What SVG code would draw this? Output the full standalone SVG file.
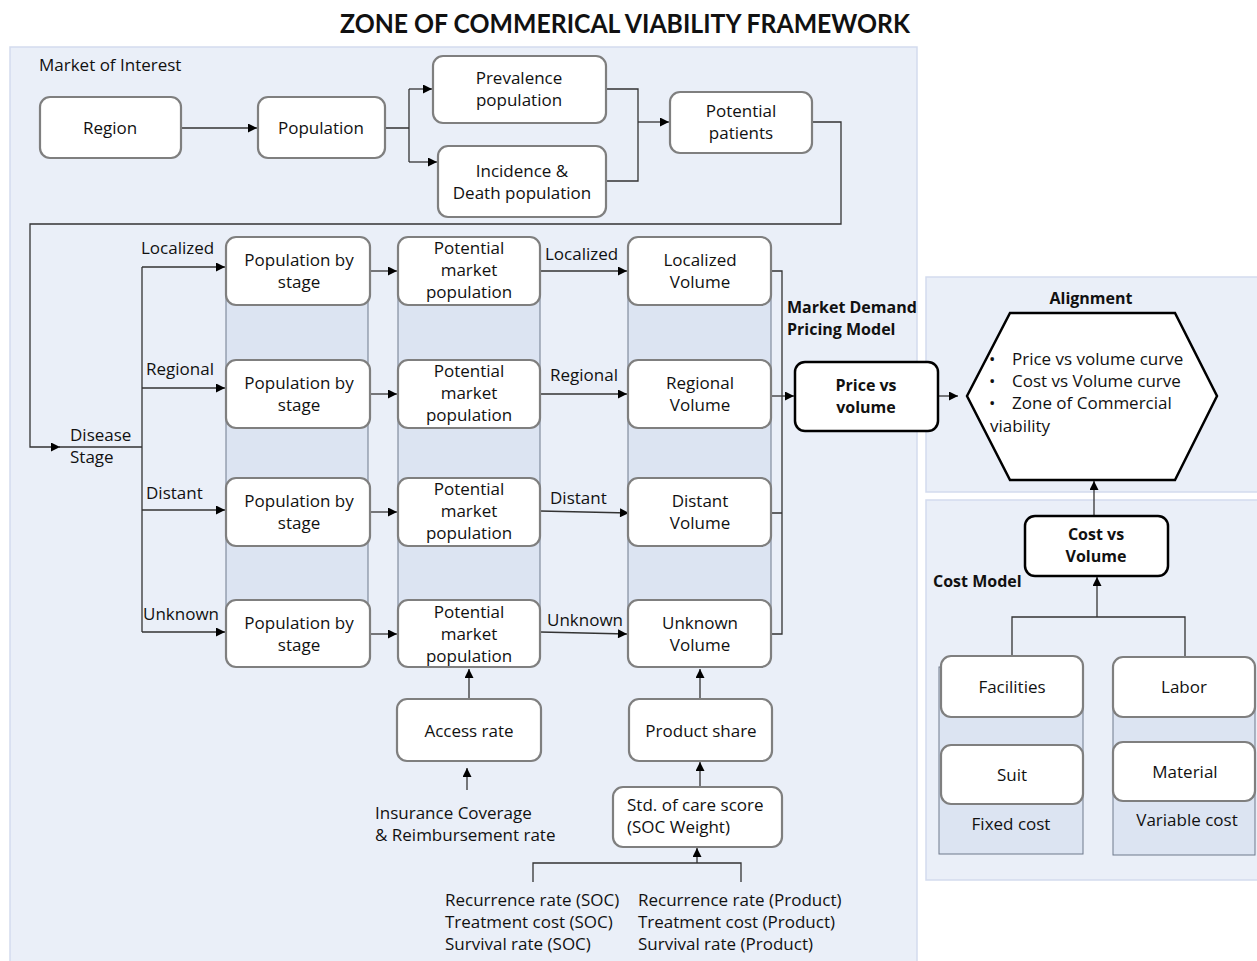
<svg xmlns="http://www.w3.org/2000/svg" width="1257" height="961" viewBox="0 0 1257 961">
<defs>
<marker id="ah" viewBox="0 0 10 10" refX="10" refY="5" markerWidth="10" markerHeight="9" markerUnits="userSpaceOnUse" orient="auto">
<path d="M0,0 L10,5 L0,10 z" fill="#000"/>
</marker>
<style>
.panel{fill:#eaeff8;stroke:#d3dbee;stroke-width:1.5}
.col{fill:#dce4f2;stroke:#6f7a8c;stroke-width:1}
.box{fill:#fff;stroke:#7f7f7f;stroke-width:2.2}
.bbox{fill:#fff;stroke:#000;stroke-width:2.5}
.t{font-family:"Open Sans","Liberation Sans",sans-serif;font-size:17px;fill:#111}
.c{text-anchor:middle}
.b{font-weight:bold;font-size:16px}
.ln{fill:none;stroke:#333;stroke-width:1.3}
.ar{fill:none;stroke:#333;stroke-width:1.3;marker-end:url(#ah)}
</style>
</defs>
<rect width="1257" height="961" fill="#fff"/>
<text x="625" y="33" font-weight="bold" font-family="Lato,'Open Sans',sans-serif" font-size="26" text-anchor="middle" fill="#111" textLength="570" lengthAdjust="spacingAndGlyphs">ZONE OF COMMERICAL VIABILITY FRAMEWORK</text>

<g id="panels">
<rect class="panel" x="10" y="47" width="907" height="920"/>
<rect class="panel" x="926" y="277" width="335" height="215"/>
<rect class="panel" x="926" y="500" width="335" height="380"/>
<rect class="col" x="226" y="250" width="142" height="405"/>
<rect class="col" x="398" y="250" width="142" height="405"/>
<rect class="col" x="628" y="250" width="143" height="405"/>
<rect class="col" x="939" y="667" width="144" height="187"/>
<rect class="col" x="1113" y="667" width="142" height="188"/>
</g>

<g id="labels">
<text x="39" y="71" class="t">Market of Interest</text>
<text x="70" y="441" class="t">Disease</text>
<text x="70" y="463" class="t">Stage</text>
<text x="141" y="254" class="t">Localized</text>
<text x="146" y="375" class="t">Regional</text>
<text x="146" y="499" class="t">Distant</text>
<text x="143" y="620" class="t">Unknown</text>
<text x="545" y="260" class="t">Localized</text>
<text x="550" y="381" class="t">Regional</text>
<text x="550" y="504" class="t">Distant</text>
<text x="547" y="626" class="t">Unknown</text>
<text x="787" y="313" class="t b">Market Demand</text>
<text x="787" y="335" class="t b">Pricing Model</text>
<text x="1091" y="304" class="t c b">Alignment</text>
<text x="933" y="587" class="t b">Cost Model</text>
<text x="1011" y="830" class="t c">Fixed cost</text>
<text x="1187" y="826" class="t c">Variable cost</text>
<text x="375" y="819" class="t">Insurance Coverage</text>
<text x="375" y="841" class="t">&amp; Reimbursement rate</text>
<text x="445" y="906" class="t">Recurrence rate (SOC)</text>
<text x="445" y="928" class="t">Treatment cost (SOC)</text>
<text x="445" y="950" class="t">Survival rate (SOC)</text>
<text x="638" y="906" class="t">Recurrence rate (Product)</text>
<text x="638" y="928" class="t">Treatment cost (Product)</text>
<text x="638" y="950" class="t">Survival rate (Product)</text>
</g>

<g id="connectors">
<path class="ar" d="M181,128 H257"/>
<path class="ln" d="M385,128 H409 M409,89 V162"/>
<path class="ar" d="M409,89 H432"/>
<path class="ar" d="M409,162 H437"/>
<path class="ln" d="M606,89 H638 V181 H606"/>
<path class="ar" d="M638,122 H669"/>
<path class="ar" d="M812,122 H841 V224 H30 V447 H60"/>
<path class="ln" d="M58,447 H142 M142,267 V632"/>
<path class="ar" d="M142,267 H225"/>
<path class="ar" d="M142,388 H225"/>
<path class="ar" d="M142,510 H225"/>
<path class="ar" d="M142,632 H225"/>
<path class="ar" d="M370,271 H397"/>
<path class="ar" d="M370,394 H397"/>
<path class="ar" d="M370,512 H397"/>
<path class="ar" d="M370,634 H397"/>
<path class="ar" d="M540,271 H627"/>
<path class="ar" d="M540,394 H627"/>
<path class="ar" d="M540,511 L629,513"/>
<path class="ar" d="M540,632 L627,634"/>
<path class="ln" d="M771,271 H782 V634 H771 M771,513 H782"/>
<path class="ar" d="M771,396 H794"/>
<path class="ar" d="M938,396 H958"/>
<path class="ar" d="M1094,516 V481"/>
<path class="ln" d="M1012,656 V617 H1185 V657"/>
<path class="ar" d="M1097,617 V577"/>
<path class="ar" d="M469,699 V669"/>
<path class="ar" d="M467,790 V768"/>
<path class="ar" d="M700,699 V669"/>
<path class="ar" d="M700,786 V762"/>
<path class="ln" d="M533,882 V863 H741 V882"/>
<path class="ar" d="M697,863 V848"/>
</g>

<g id="region"><rect class="box" x="40" y="97" width="141" height="61" rx="10"/><text x="110" y="134" class="t c">Region</text></g>
<g id="population"><rect class="box" x="258" y="97" width="127" height="61" rx="10"/><text x="321" y="134" class="t c">Population</text></g>
<g id="prevalence"><rect class="box" x="433" y="56" width="173" height="67" rx="10"/><text x="519" y="84" class="t c">Prevalence</text><text x="519" y="106" class="t c">population</text></g>
<g id="incidence"><rect class="box" x="438" y="146" width="168" height="71" rx="10"/><text x="522" y="177" class="t c">Incidence &amp;</text><text x="522" y="199" class="t c">Death population</text></g>
<g id="potential-patients"><rect class="box" x="670" y="92" width="142" height="61" rx="10"/><text x="741" y="117" class="t c">Potential</text><text x="741" y="139" class="t c">patients</text></g>

<g id="pop-stage-1"><rect class="box" x="226" y="237" width="144" height="68" rx="10"/><text x="299" y="266" class="t c">Population by</text><text x="299" y="288" class="t c">stage</text></g>
<g id="pop-stage-2"><rect class="box" x="226" y="360" width="144" height="68" rx="10"/><text x="299" y="389" class="t c">Population by</text><text x="299" y="411" class="t c">stage</text></g>
<g id="pop-stage-3"><rect class="box" x="226" y="478" width="144" height="68" rx="10"/><text x="299" y="507" class="t c">Population by</text><text x="299" y="529" class="t c">stage</text></g>
<g id="pop-stage-4"><rect class="box" x="226" y="600" width="144" height="67" rx="10"/><text x="299" y="629" class="t c">Population by</text><text x="299" y="651" class="t c">stage</text></g>

<g id="pmp-1"><rect class="box" x="398" y="237" width="142" height="68" rx="10"/><text x="469" y="254" class="t c">Potential</text><text x="469" y="276" class="t c">market</text><text x="469" y="298" class="t c">population</text></g>
<g id="pmp-2"><rect class="box" x="398" y="360" width="142" height="68" rx="10"/><text x="469" y="377" class="t c">Potential</text><text x="469" y="399" class="t c">market</text><text x="469" y="421" class="t c">population</text></g>
<g id="pmp-3"><rect class="box" x="398" y="478" width="142" height="68" rx="10"/><text x="469" y="495" class="t c">Potential</text><text x="469" y="517" class="t c">market</text><text x="469" y="539" class="t c">population</text></g>
<g id="pmp-4"><rect class="box" x="398" y="600" width="142" height="67" rx="10"/><text x="469" y="618" class="t c">Potential</text><text x="469" y="640" class="t c">market</text><text x="469" y="662" class="t c">population</text></g>

<g id="vol-localized"><rect class="box" x="628" y="237" width="143" height="68" rx="10"/><text x="700" y="266" class="t c">Localized</text><text x="700" y="288" class="t c">Volume</text></g>
<g id="vol-regional"><rect class="box" x="628" y="360" width="143" height="68" rx="10"/><text x="700" y="389" class="t c">Regional</text><text x="700" y="411" class="t c">Volume</text></g>
<g id="vol-distant"><rect class="box" x="628" y="478" width="143" height="68" rx="10"/><text x="700" y="507" class="t c">Distant</text><text x="700" y="529" class="t c">Volume</text></g>
<g id="vol-unknown"><rect class="box" x="628" y="600" width="143" height="67" rx="10"/><text x="700" y="629" class="t c">Unknown</text><text x="700" y="651" class="t c">Volume</text></g>

<g id="price-vs-volume"><rect class="bbox" x="795" y="362" width="143" height="69" rx="10"/><text x="866" y="391" class="t c b">Price vs</text><text x="866" y="413" class="t c b">volume</text></g>

<g id="alignment"><polygon points="967,396 1010,313 1175,313 1217,396 1175,480 1010,480" fill="#fff" stroke="#000" stroke-width="2.5"/>
<text class="t"><tspan x="989" y="365">•</tspan><tspan x="1012" y="365">Price vs volume curve</tspan><tspan x="989" y="387">•</tspan><tspan x="1012" y="387">Cost vs Volume curve</tspan><tspan x="989" y="409">•</tspan><tspan x="1012" y="409">Zone of Commercial</tspan><tspan x="990" y="432">viability</tspan></text></g>

<g id="cost-vs-volume"><rect class="bbox" x="1025" y="516" width="143" height="60" rx="10"/><text x="1096" y="540" class="t c b">Cost vs</text><text x="1096" y="562" class="t c b">Volume</text></g>
<g id="facilities"><rect class="box" x="941" y="656" width="142" height="61" rx="10"/><text x="1012" y="693" class="t c">Facilities</text></g>
<g id="suit"><rect class="box" x="941" y="745" width="142" height="59" rx="10"/><text x="1012" y="781" class="t c">Suit</text></g>
<g id="labor"><rect class="box" x="1113" y="657" width="142" height="60" rx="10"/><text x="1184" y="693" class="t c">Labor</text></g>
<g id="material"><rect class="box" x="1113" y="742" width="142" height="59" rx="10"/><text x="1185" y="778" class="t c">Material</text></g>

<g id="access-rate"><rect class="box" x="397" y="699" width="144" height="62" rx="10"/><text x="469" y="737" class="t c">Access rate</text></g>
<g id="product-share"><rect class="box" x="629" y="699" width="143" height="62" rx="10"/><text x="701" y="737" class="t c">Product share</text></g>
<g id="soc-score"><rect class="box" x="613" y="787" width="169" height="60" rx="10"/><text x="627" y="811" class="t">Std. of care score</text><text x="627" y="833" class="t">(SOC Weight)</text></g>
</svg>
